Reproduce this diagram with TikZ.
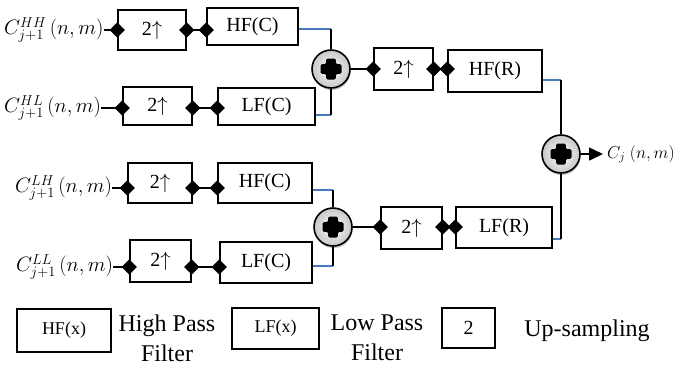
\documentclass[tikz,border=0pt]{standalone}
\usepackage{fontspec}
\setmainfont{Liberation Serif}
\usetikzlibrary{arrows.meta,shadows,shapes.geometric}
\tikzset{
  box/.style={draw, line width=1.5pt, inner sep=0pt, font=\fontsize{20}{24}\selectfont},
  lgbox/.style={draw, line width=1.5pt, inner sep=0pt, font=\fontsize{18}{22}\selectfont},
  inlab/.style={inner sep=0pt, anchor=west, font=\fontsize{20}{24}\selectfont},
  lgtext/.style={inner sep=0pt, align=center, font=\fontsize{24}{30}\selectfont},
  wire/.style={line width=1.5pt},
  bluewire/.style={line width=1.5pt, draw={rgb,255:red,70;green,120;blue,190}},
  dmd/.style={diamond, fill=black, inner sep=0pt, minimum width=16pt, minimum height=16pt},
  adder/.style={circle, draw, line width=1.6pt, minimum size=38pt, inner sep=0pt,
    shading=radial, inner color=white, outer color=black!22,
    drop shadow={shadow xshift=0.6pt, shadow yshift=-2pt, opacity=0.25, fill=black},
    path picture={\fill[shift={(path picture bounding box.center)}, rounded corners=1.5pt]
      (-4.8,-10.5) -- (4.8,-10.5) -- (4.8,-4.8) -- (10.5,-4.8) -- (10.5,4.8) -- (4.8,4.8)
      -- (4.8,10.5) -- (-4.8,10.5) -- (-4.8,4.8) -- (-10.5,4.8) -- (-10.5,-4.8) -- (-4.8,-4.8) -- cycle;}}
}
\begin{document}
\begin{tikzpicture}[x=1pt,y=-1pt]
\useasboundingbox (0,0) rectangle (684,368);
% adders
\node[adder] (a1) at (331,69) {};
\node[adder] (a2) at (333,227) {};
\node[adder] (a3) at (561,154) {};
% boxes
\node[box, minimum width=68pt, minimum height=40pt] (u1) at (152,30) {2$\uparrow$};
\node[box, minimum width=91pt, minimum height=37pt] (h1) at (252.5,26.5) {HF(C)};
\node[box, minimum width=69pt, minimum height=38pt] (u2) at (157.5,106) {2$\uparrow$};
\node[box, minimum width=97pt, minimum height=37pt] (l2) at (266.5,106.5) {LF(C)};
\node[box, minimum width=59pt, minimum height=42pt] (u5) at (403.5,69) {2$\uparrow$};
\node[box, minimum width=94pt, minimum height=42pt] (hr) at (495,71) {HF(R)};
\node[box, minimum width=64pt, minimum height=40pt] (u3) at (160,183) {2$\uparrow$};
\node[box, minimum width=94pt, minimum height=40pt] (h3) at (265,183) {HF(C)};
\node[box, minimum width=61pt, minimum height=42pt] (u4) at (160.5,261) {2$\uparrow$};
\node[box, minimum width=92pt, minimum height=41pt] (l4) at (266,262.5) {LF(C)};
\node[box, minimum width=61pt, minimum height=42pt] (u6) at (411.5,228) {2$\uparrow$};
\node[box, minimum width=96pt, minimum height=41pt] (lr) at (504,227.5) {LF(R)};
% input labels
\node[inlab] (c1) at (4,30) {$C_{j+1}^{HH}\,(n,m)$};
\node[inlab] (c2) at (4,108) {$C_{j+1}^{HL}\,(n,m)$};
\node[inlab] (c3) at (15,188) {$C_{j+1}^{LH}\,(n,m)$};
\node[inlab] (c4) at (16,267) {$C_{j+1}^{LL}\,(n,m)$};
% input wires
\draw[wire] (c1.east) -- (u1.west |- c1.east) node[dmd] (d1) {};
\draw[wire] (u1.east |- c1.east) node[dmd] (d2) {} -- (h1.west |- c1.east) node[dmd] (d3) {};
\draw[wire] (c2.east) -- (u2.west |- c2.east) node[dmd] (d4) {};
\draw[wire] (u2.east |- c2.east) node[dmd] (d5) {} -- (l2.west |- c2.east) node[dmd] (d6) {};
\draw[wire] (c3.east) -- (u3.west |- c3.east) node[dmd] (d7) {};
\draw[wire] (u3.east |- c3.east) node[dmd] (d8) {} -- (h3.west |- c3.east) node[dmd] (d9) {};
\draw[wire] (c4.east) -- (u4.west |- c4.east) node[dmd] (d10) {};
\draw[wire] (u4.east |- c4.east) node[dmd] (d11) {} -- (l4.west |- c4.east) node[dmd] (d12) {};
% filter outputs to adders
\coordinate (k1) at (331,29);
\coordinate (k2) at (331,115);
\coordinate (k3) at (333,190);
\coordinate (k4) at (333,266);
\coordinate (k5) at (561,80);
\coordinate (k6) at (561,239);
\draw[bluewire] (h1.east |- k1) -- (k1);
\draw[wire] (k1) -- (a1.north);
\draw[bluewire] (l2.east |- k2) -- (k2);
\draw[wire] (k2) -- (a1.south);
\draw[bluewire] (h3.east |- k3) -- (k3);
\draw[wire] (k3) -- (a2.north);
\draw[bluewire] (l4.east |- k4) -- (k4);
\draw[wire] (k4) -- (a2.south);
\draw[bluewire] (hr.east |- k5) -- (k5);
\draw[wire] (k5) -- (a3.north);
\draw[bluewire] (lr.east |- k6) -- (k6);
\draw[wire] (k6) -- (a3.south);
% adder outputs
\draw[wire] (a1.east) -- (u5.west |- a1.east) node[dmd] (d13) {};
\draw[wire] (u5.east |- a1.east) node[dmd] (d14) {} -- (hr.west |- a1.east) node[dmd] (d15) {};
\draw[wire] (a2.east) -- (u6.west |- a2.east) node[dmd] (d16) {};
\draw[wire] (u6.east |- a2.east) node[dmd] (d17) {} -- (lr.west |- a2.east) node[dmd] (d18) {};
\coordinate (o) at (603,154);
\draw[wire, -{Triangle[length=14pt,width=13pt]}] (a3.east) -- (o);
\node[inner sep=0pt, anchor=west, font=\fontsize{18.5}{22}\selectfont] (cj) at (607,154) {$C_j\ (n,m)$};
% legend
\node[lgbox, minimum width=94pt, minimum height=43pt] (lg1) at (64,330.5) {HF(x)};
\node[lgtext] (t1) at (167,338) {High Pass\\Filter};
\node[lgbox, minimum width=87pt, minimum height=41pt] (lg2) at (275.5,328.5) {LF(x)};
\node[lgtext] (t2) at (377,338) {Low Pass\\Filter};
\node[box, minimum width=53pt, minimum height=40pt] (lg3) at (468.5,328) {2};
\node[lgtext] (t3) at (587,331) {Up-sampling};
\end{tikzpicture}
\end{document}
